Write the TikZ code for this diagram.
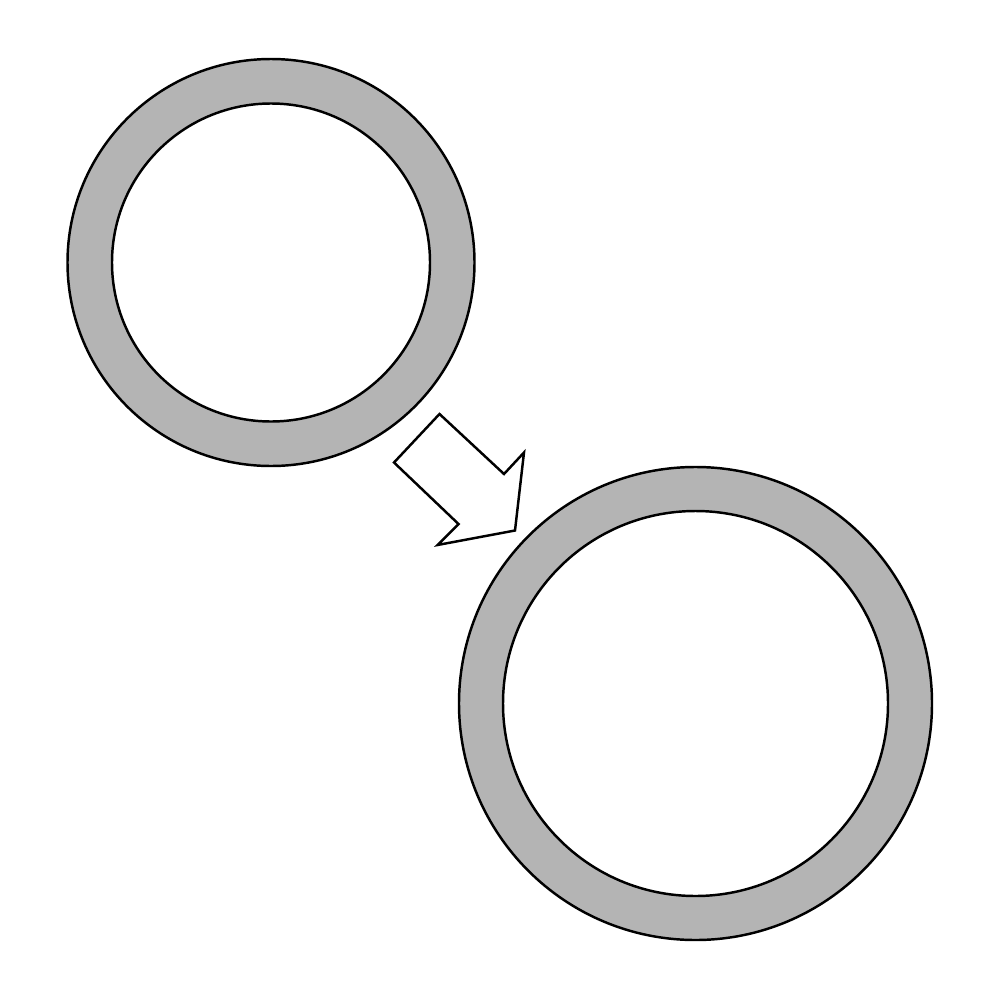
\documentclass[tikz,border=0pt]{standalone}
\usepackage{tikz}
\usepackage{xcolor}

\definecolor{ringgray}{RGB}{180,180,180}

\begin{document}
\begin{tikzpicture}[x=0.01cm, y=-0.01cm, line width=0.7pt]
        \useasboundingbox (0, 0) rectangle (1000, 1000);

        % small ring
        \coordinate (small) at (271, 262.5);
        \draw[fill=ringgray, even odd rule] (small) circle[radius=203.5] (small) circle[radius=159];

        % big ring
        \coordinate (big) at (695.5, 703.5);
        \draw[fill=ringgray, even odd rule] (big) circle[radius=236.5] (big) circle[radius=192.5];

        % block arrow
        \draw[fill=white, line join=miter] (439.5, 414) -- (394, 462.5) -- (458.5, 524) -- (437.5, 545)
            -- (515, 530.5) -- (524, 452.5) -- (504, 474) -- cycle;

    \end{tikzpicture}
\end{document}
